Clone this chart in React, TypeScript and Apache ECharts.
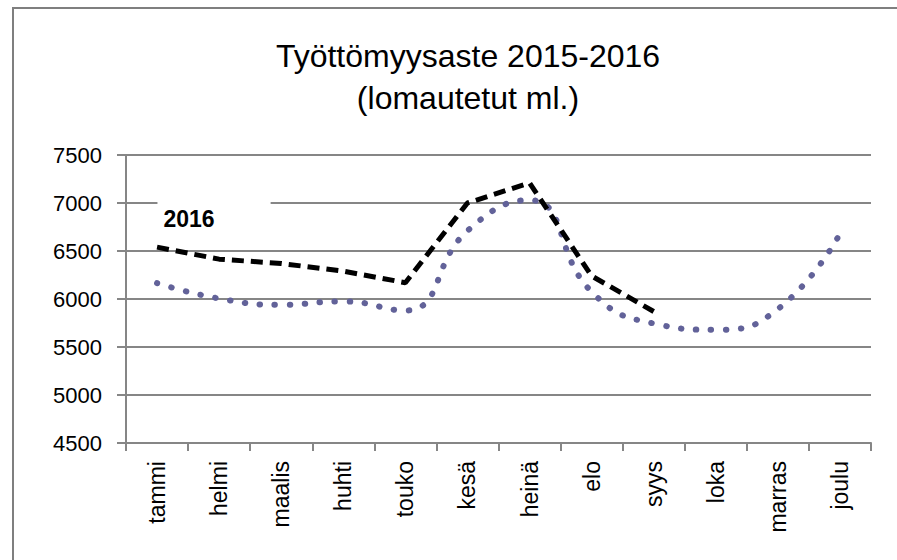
import React, { useEffect, useRef } from "react";
import * as echarts from "echarts";

const months = ["tammi", "helmi", "maalis", "huhti", "touko", "kesä", "heinä", "elo", "syys", "loka", "marras", "joulu"];
const values2015 = [6165, 6005, 5940, 5975, 5880, 6710, 7030, 6075, 5745, 5680, 5895, 6680];
const values2016 = [6540, 6415, 6370, 6290, 6170, 7000, 7210, 6240, 5870];
const yTicks = { min: 4500, max: 7500, step: 500 };
const titleText = "Työttömyysaste 2015-2016\n(lomautetut ml.)";
const label2016 = "2016";

const FONT = "'Liberation Sans', Arial, sans-serif";

export default function App() {
  const ref = useRef<HTMLDivElement>(null);
  useEffect(() => {
    document.body.style.margin = "0";
    const chart = echarts.init(ref.current!, null, { renderer: "svg" });
    chart.setOption({
      animation: false,
      backgroundColor: "#fff",
      textStyle: { fontFamily: FONT },
      title: {
        text: titleText,
        left: 463,
        top: 30,
        textAlign: "center",
        textStyle: {
          fontFamily: FONT,
          fontWeight: "normal",
          fontSize: 32,
          lineHeight: 42,
          color: "#000",
        },
      },
      graphic: [
        {
          type: "rect",
          shape: { x: 13, y: 8, width: 950, height: 650 },
          style: { fill: "none", stroke: "#7f7f7f", lineWidth: 2 },
          silent: true,
          z: -1,
        },
      ],
      grid: { left: 126, right: 26, top: 155, bottom: 117 },
      xAxis: {
        type: "category",
        data: months,
        boundaryGap: true,
        axisLine: { show: true, lineStyle: { color: "#868686", width: 2 } },
        axisTick: { show: true, length: 8, inside: false, lineStyle: { color: "#868686", width: 2 } },
        axisLabel: {
          rotate: 90,
          margin: 18,
          fontSize: 23,
          color: "#000",
          fontFamily: FONT,
          interval: 0,
        },
        splitLine: { show: false },
      },
      yAxis: {
        type: "value",
        min: yTicks.min,
        max: yTicks.max,
        interval: yTicks.step,
        axisLine: { show: true, lineStyle: { color: "#868686", width: 2 } },
        axisTick: { show: true, length: 9, lineStyle: { color: "#868686", width: 2 } },
        axisLabel: {
          margin: 24,
          fontSize: 22,
          color: "#000",
          fontFamily: FONT,
          formatter: (v: number) => String(v),
        },
        splitLine: { show: true, lineStyle: { color: "#868686", width: 2 } },
      },
      series: [
        {
          name: "2015",
          type: "line",
          data: values2015,
          smooth: true,
          symbol: "none",
          lineStyle: { color: "#626299", width: 6, type: [0.5, 14.5], cap: "round" },
          z: 2,
        },
        {
          name: "2016",
          type: "line",
          data: values2016,
          smooth: false,
          symbol: "none",
          lineStyle: { color: "#000", width: 5, type: [12, 7], cap: "butt" },
          markPoint: {
            symbol: "circle",
            symbolSize: 1,
            itemStyle: { color: "rgba(0,0,0,0)" },
            label: {
              show: true,
              formatter: label2016,
              position: "top",
              offset: [57, -7],
              fontFamily: FONT,
              fontWeight: "bold",
              fontSize: 23,
              color: "#000",
              backgroundColor: "#fff",
              padding: [6, 56, 4, 6],
            },
            data: [{ coord: [0, values2016[0]] }],
          },
          z: 3,
        },
      ],
    });
    return () => chart.dispose();
  }, []);
  return <div ref={ref} style={{ position: "fixed", left: 0, top: 0, width: 897, height: 560 }} />;
}
